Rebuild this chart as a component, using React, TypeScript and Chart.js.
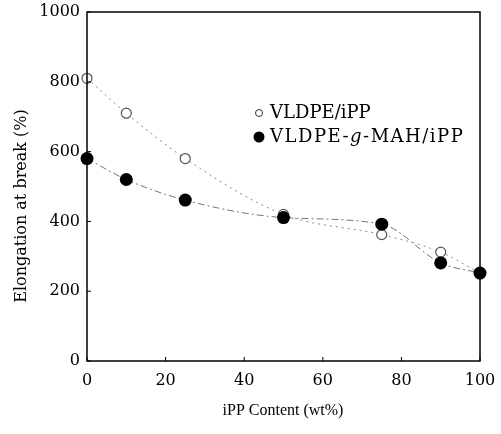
import React, { useEffect, useRef } from "react";
import { Chart, registerables } from "chart.js";

Chart.register(...registerables);

const ippContent = [0, 10, 25, 50, 75, 90, 100];
const vldpeIpp = [810, 710, 580, 420, 362, 312, 252];
const vldpeMahIpp = [580, 520, 461, 411, 392, 281, 252];
const xTicks = [0, 20, 40, 60, 80, 100];
const yTicks = [0, 200, 400, 600, 800, 1000];

const legendLabels = ["VLDPE/iPP", "VLDPE-g-MAH/iPP"];
const xTitle = "iPP Content (wt%)";
const yTitle = "Elongation at break (%)";

const FONT = "'DejaVu Serif', 'Liberation Serif', serif";

const framePlugin = {
  id: "frame",
  afterDraw(chart: any) {
    const ctx = chart.ctx;
    const { left, right, top, bottom } = chart.chartArea;
    const xs = chart.scales.x;
    const ys = chart.scales.y;
    ctx.save();
    ctx.strokeStyle = "#000";
    ctx.lineWidth = 1.5;
    ctx.strokeRect(left, top, right - left, bottom - top);
    ctx.lineWidth = 1;
    ctx.beginPath();
    xTicks.forEach((v) => {
      const px = xs.getPixelForValue(v);
      ctx.moveTo(px, bottom);
      ctx.lineTo(px, bottom - 4);
    });
    yTicks.forEach((v) => {
      const py = ys.getPixelForValue(v);
      ctx.moveTo(left, py);
      ctx.lineTo(left + 4, py);
    });
    ctx.stroke();

    // axis titles
    ctx.fillStyle = "#000";
    ctx.textAlign = "center";
    ctx.textBaseline = "middle";
    ctx.font = `16px 'Liberation Serif', serif`;
    ctx.fillText(xTitle, 283, 411);
    ctx.save();
    ctx.font = `16px ${FONT}`;
    ctx.translate(22, 206);
    ctx.rotate(-Math.PI / 2);
    ctx.fillText(yTitle, 0, 0);
    ctx.restore();

    // legend
    const lx = 259;
    const ly1 = 113;
    const ly2 = 137;
    ctx.beginPath();
    ctx.arc(lx, ly1, 3.5, 0, Math.PI * 2);
    ctx.fillStyle = "#fff";
    ctx.fill();
    ctx.strokeStyle = "#333";
    ctx.lineWidth = 1;
    ctx.stroke();
    ctx.beginPath();
    ctx.arc(lx, ly2, 5.5, 0, Math.PI * 2);
    ctx.fillStyle = "#000";
    ctx.fill();

    ctx.textAlign = "left";
    ctx.textBaseline = "middle";
    const lf = `18px ${FONT}`;
    const lfi = `italic 18px ${FONT}`;
    ctx.font = lf;
    ctx.fillText(legendLabels[0], 270, ly1);
    (ctx as any).letterSpacing = "1.5px";
    const parts = legendLabels[1].split("-g-");
    let tx = 270;
    ctx.font = lf;
    ctx.fillText(parts[0] + "-", tx, ly2);
    tx += ctx.measureText(parts[0] + "-").width;
    ctx.font = lfi;
    ctx.fillText("g", tx, ly2);
    tx += ctx.measureText("g").width;
    ctx.font = lf;
    ctx.fillText("-" + parts[1], tx, ly2);
    (ctx as any).letterSpacing = "0px";
    ctx.restore();
  },
};

const zeroPad = (s: any) => {
  s.paddingTop = 0;
  s.paddingBottom = 0;
  s.paddingLeft = 0;
  s.paddingRight = 0;
};

export default function App() {
  const ref = useRef<HTMLCanvasElement | null>(null);
  useEffect(() => {
    document.body.style.margin = "0";
    const canvas = ref.current;
    if (!canvas) return;
    const chart = new Chart(canvas, {
      type: "scatter",
      data: {
        datasets: [
          {
            label: legendLabels[1],
            data: ippContent.map((x, i) => ({ x, y: vldpeMahIpp[i] })),
            showLine: true,
            cubicInterpolationMode: "monotone",
            borderColor: "#777",
            borderWidth: 1,
            borderDash: [7, 3, 2, 3],
            pointRadius: 6.5,
            pointBackgroundColor: "#000",
            pointBorderColor: "#000",
            pointBorderWidth: 0,
            clip: false as any,
          },
          {
            label: legendLabels[0],
            data: ippContent.map((x, i) => ({ x, y: vldpeIpp[i] })),
            showLine: true,
            cubicInterpolationMode: "monotone",
            borderColor: "#888",
            borderWidth: 1,
            borderDash: [2, 4],
            pointRadius: 5,
            pointBackgroundColor: "#fff",
            pointBorderColor: "#555",
            pointBorderWidth: 1.2,
            clip: false as any,
          },
        ],
      },
      options: {
        animation: false,
        responsive: true,
        maintainAspectRatio: false,
        layout: { padding: { left: 0, right: 21, top: 12, bottom: 0 } },
        plugins: { legend: { display: false }, tooltip: { enabled: false } },
        scales: {
          x: {
            type: "linear",
            min: 0,
            max: 100,
            afterBuildTicks: (s: any) => {
              s.ticks = xTicks.map((v) => ({ value: v }));
            },
            afterFit: (s: any) => {
              s.height = 73;
              zeroPad(s);
            },
            grid: { display: false, drawTicks: false },
            border: { display: false },
            ticks: {
              color: "#000",
              padding: 10,
              maxRotation: 0,
              callback: (v: any) => String(v),
              font: { family: FONT, size: 16 },
            },
          },
          y: {
            type: "linear",
            min: 0,
            max: 1000,
            afterBuildTicks: (s: any) => {
              s.ticks = yTicks.map((v) => ({ value: v }));
            },
            afterFit: (s: any) => {
              s.width = 87;
              zeroPad(s);
            },
            grid: { display: false, drawTicks: false },
            border: { display: false },
            ticks: {
              color: "#000",
              padding: 7,
              callback: (v: any) => String(v),
              font: { family: FONT, size: 16 },
            },
          },
        },
      },
      plugins: [framePlugin],
    });
    return () => chart.destroy();
  }, []);
  return (
    <div style={{ position: "absolute", left: 0, top: 0, width: 501, height: 434, background: "#fff" }}>
      <canvas ref={ref} />
    </div>
  );
}
